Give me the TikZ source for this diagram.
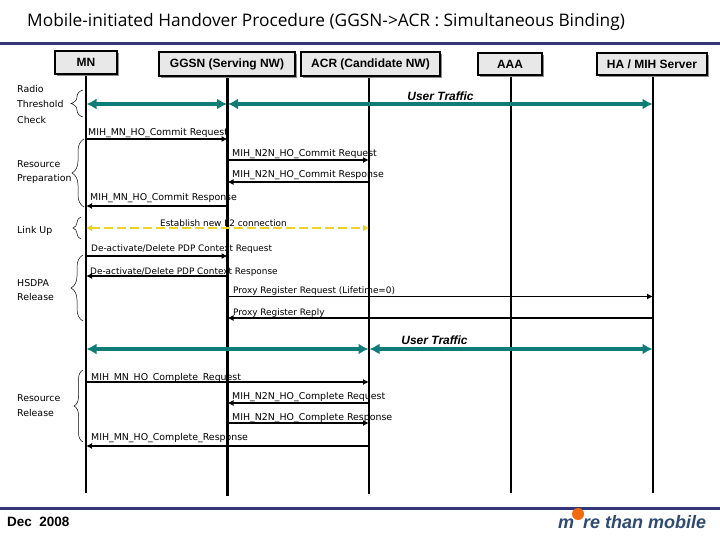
\documentclass[tikz,border=0pt]{standalone}
\usepackage{fontspec}
\setmainfont{Liberation Sans}
\newfontfamily\titlefont{Open Sans}
\newfontfamily\msgfont{DejaVu Sans}
\usetikzlibrary{arrows.meta, positioning, calc, decorations.pathreplacing, shadows}
\definecolor{rulecol}{HTML}{35357A}
\definecolor{trafficcol}{HTML}{0F7C78}
\definecolor{linkcol}{HTML}{F0D226}
\definecolor{logocol}{HTML}{2F4A70}
\definecolor{dotcol}{HTML}{F26A10}

\begin{document}
\begin{tikzpicture}[x=1pt, y=-1pt,
  box/.style={draw=black, line width=1.4pt, fill=black!9, inner sep=0pt, font=\fontsize{12}{14}\selectfont\bfseries, drop shadow={shadow xshift=2pt, shadow yshift=-2pt, fill=black!45, opacity=1}},
  msg/.style={anchor=west, inner sep=0pt, yshift=-0.7pt, font=\msgfont\fontsize{9.4}{11}\selectfont},
  msgs/.style={anchor=west, inner sep=0pt, yshift=-0.7pt, font=\msgfont\fontsize{8.9}{11}\selectfont},
  usertxt/.style={inner sep=0pt, font=\fontsize{12}{14}\selectfont\bfseries\itshape},
  life/.style={draw=black, line width=1.5pt},
  arr/.style={draw=black, line width=1.5pt, -{Latex[length=6pt,width=6pt]}},
  traffic/.style={draw=trafficcol, line width=4pt, {Latex[length=10pt,width=11pt]}-{Latex[length=10pt,width=11pt]}, shorten <=0.5pt, shorten >=0.5pt},
  linkup/.style={draw=linkcol, line width=2pt, dashed, dash pattern=on 9pt off 4pt, {Latex[length=6pt,width=7pt]}-{Latex[length=6pt,width=7pt]}},
  grp/.style={draw=black, line width=0.5pt, decorate, decoration={brace, amplitude=#1}},
  bar/.style={draw=rulecol, line width=3pt}]
\useasboundingbox (0,0) rectangle (720,540);
\node[anchor=west, inner sep=0pt, font=\titlefont\fontsize{17.3}{20}\selectfont] (title) at (27,22) {Mobile-initiated Handover Procedure (GGSN->ACR : Simultaneous Binding)};
\coordinate (barTL) at (0,44); \coordinate (barTR) at (720,44);
\coordinate (barBL) at (0,508); \coordinate (barBR) at (720,508);
\draw[bar] (barTL) -- (barTR);
\draw[bar] (barBL) -- (barBR);

\coordinate (mnT) at (86,70); \coordinate (mnB) at (86,493);
\coordinate (ggsnT) at (227.5,70); \coordinate (ggsnB) at (227.5,496);
\coordinate (acrT) at (369,70); \coordinate (acrB) at (369,494);
\coordinate (aaaT) at (511,70); \coordinate (aaaB) at (511,493);
\coordinate (haT) at (653,70); \coordinate (haB) at (653,493);
\draw[life] (mnT) -- (mnB);
\draw[life, line width=3pt] (ggsnT) -- (ggsnB);
\draw[life] (acrT) -- (acrB);
\draw[life] (aaaT) -- (aaaB);
\draw[life] (haT) -- (haB);

\node[box, minimum width=62pt, minimum height=23pt] (mn) at (86,62.5) {MN};
\node[box, minimum width=136pt, minimum height=24pt] (ggsn) at (227,64) {GGSN (Serving NW)};
\node[box, minimum width=139pt, minimum height=24pt] (acr) at (370.5,64) {ACR (Candidate NW)};
\node[box, minimum width=64pt, minimum height=22pt] (aaa) at (510,64) {AAA};
\node[box, minimum width=110pt, minimum height=22pt] (ha) at (652,64) {HA / MIH Server};

\foreach \n/\y in {r1/104,r2/139,r3/160,r4/182,r5/206,r6/228,r7/256,r8/276,r9/296.5,r10/318,r11/349,r12/382,r13/403,r14/423,r15/446}
  \coordinate (\n) at (0,\y);

\node[msg] (radio) at (17,88) {Radio};
\node[msg] (thresh) at (17,103) {Threshold};
\node[msg] (check) at (17,119) {Check};
\node[msg] (prep1) at (17,163) {Resource};
\node[msg] (prep2) at (17,178) {Preparation};
\node[msg] (link) at (17,230) {Link Up};
\node[msg] (hsdpa1) at (17,282) {HSDPA};
\node[msg] (hsdpa2) at (17,296) {Release};
\node[msg] (rel1) at (17,397) {Resource};
\node[msg] (rel2) at (17,412) {Release};
\draw[grp=12pt] (83,117) -- (83,90);
\draw[grp=12pt] (84,207) -- (84,139);
\draw[grp=8pt] (81,239) -- (81,217);
\draw[grp=12pt] (83,321) -- (83,255);
\draw[grp=9pt] (83,442) -- (83,370);

\draw[traffic] (mnT |- r1) -- (ggsnT |- r1);
\draw[traffic] (ggsnT |- r1) -- (haT |- r1);
\node[usertxt] (user1) at (440.5,96) {User Traffic};

\node[msg] (m2) at (88,132) {MIH\_MN\_HO\_Commit Request};
\draw[arr] (mnT |- r2) -- (ggsnT |- r2);
\node[msg] (m3) at (232,153) {MIH\_N2N\_HO\_Commit Request};
\draw[arr] (ggsnT |- r3) -- (acrT |- r3);
\node[msg] (m4) at (232,174.5) {MIH\_N2N\_HO\_Commit Response};
\draw[arr] (acrT |- r4) -- (ggsnT |- r4);
\node[msg] (m5) at (90,197) {MIH\_MN\_HO\_Commit Response};
\draw[arr] (ggsnT |- r5) -- (mnT |- r5);
\draw[linkup] (mnT |- r6) -- (acrT |- r6);
\node[msgs] (m6) at (160,222) {Establish new L2 connection};
\node[msgs] (m7) at (91,248) {De-activate/Delete PDP Context Request};
\draw[arr] (mnT |- r7) -- (ggsnT |- r7);
\node[msgs] (m8) at (90,271) {De-activate/Delete PDP Context Response};
\draw[arr] (ggsnT |- r8) -- (mnT |- r8);
\node[msgs] (m9) at (233,290) {Proxy Register Request (Lifetime=0)};
\draw[arr] (ggsnT |- r9) -- (haT |- r9);
\node[msgs] (m10) at (233,312) {Proxy Register Reply};
\draw[arr] (haT |- r10) -- (ggsnT |- r10);

\draw[traffic] (mnT |- r11) -- (acrT |- r11);
\draw[traffic] (acrT |- r11) -- (haT |- r11);
\node[usertxt] (user2) at (434.5,340) {User Traffic};

\node[msg] (m12) at (91,377) {MIH\_MN\_HO\_Complete\_Request};
\draw[arr] (mnT |- r12) -- (acrT |- r12);
\node[msg] (m13) at (232,396) {MIH\_N2N\_HO\_Complete Request};
\draw[arr] (acrT |- r13) -- (ggsnT |- r13);
\node[msg] (m14) at (232,417) {MIH\_N2N\_HO\_Complete Response};
\draw[arr] (ggsnT |- r14) -- (acrT |- r14);
\node[msg] (m15) at (91,437) {MIH\_MN\_HO\_Complete\_Response};
\draw[arr] (acrT |- r15) -- (mnT |- r15);

\node[anchor=west, inner sep=0pt, font=\fontsize{13.5}{16}\selectfont\bfseries] (date) at (7,522) {Dec\ \ 2008};
\node[anchor=west, inner sep=0pt, text=logocol, font=\fontsize{18}{20}\selectfont\bfseries\itshape] (logo) at (558,522.5) {m\hspace{9pt}re than mobile};
\fill[dotcol] (578,514) circle (6pt);
\end{tikzpicture}
\end{document}
